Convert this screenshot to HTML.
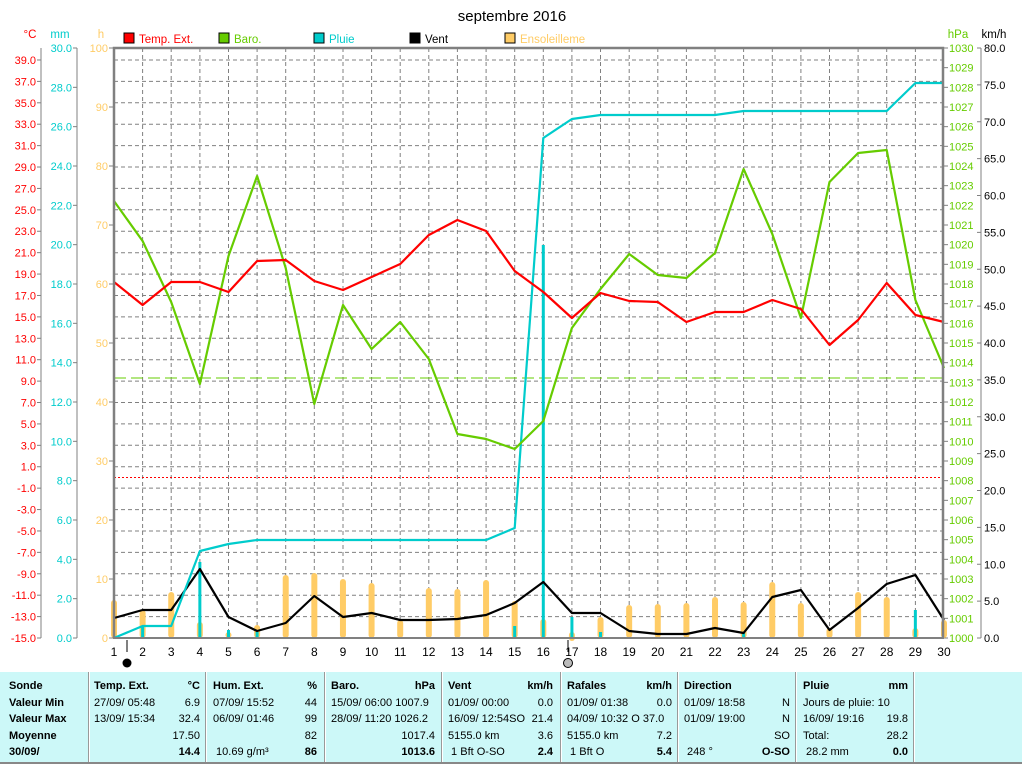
<!DOCTYPE html>
<html><head><meta charset="utf-8"><style>
body{margin:0;background:#fff;width:1024px;height:764px;overflow:hidden;font-family:"Liberation Sans",sans-serif}
svg{position:absolute;left:0;top:0}
.tb{position:absolute;left:0;top:672px;width:1022px;height:90px;background:#ccf8f8;border-bottom:2px solid #888}
.c{position:absolute;top:6px;font-size:11px;line-height:16.5px;color:#000}
.sep{position:absolute;top:0;width:1px;height:90px;background:#999;border-right:1px solid #fff}
b{font-weight:bold}
.r{position:absolute;right:0}
</style></head><body>
<svg width="1024" height="672" font-family="Liberation Sans, sans-serif">
<text x="512" y="21" font-size="15" text-anchor="middle">septembre 2016</text>
<g font-size="11.5">
<rect x="124" y="33" width="10" height="10" fill="#f00" stroke="#000"/><text x="139" y="43" fill="#f00">Temp. Ext.</text>
<rect x="219" y="33" width="10" height="10" fill="#66cc00" stroke="#000"/><text x="234" y="43" fill="#66cc00">Baro.</text>
<rect x="314" y="33" width="10" height="10" fill="#00cccc" stroke="#000"/><text x="329" y="43" fill="#00cccc">Pluie</text>
<rect x="410" y="33" width="10" height="10" fill="#000" stroke="#000"/><text x="425" y="43" fill="#000">Vent</text>
<rect x="505" y="33" width="10" height="10" fill="#ffcc66" stroke="#000"/><text x="520" y="43" fill="#ffcc66">Ensoleilleme</text>
</g>
<g font-size="11.5">
<text x="30" y="38" fill="#f00" text-anchor="middle">°C</text>
<text x="60" y="38" fill="#00cccc" text-anchor="middle">mm</text>
<text x="101" y="38" fill="#ffcc66" text-anchor="middle">h</text>
<text x="958" y="38" fill="#66cc00" text-anchor="middle">hPa</text>
<text x="994" y="38" fill="#000" text-anchor="middle">km/h</text>
</g>
<g id="g"></g>
</svg>
<div class="tb">
<div class="sep" style="left:88px"></div><div class="sep" style="left:205px"></div><div class="sep" style="left:324px"></div><div class="sep" style="left:441px"></div><div class="sep" style="left:560px"></div><div class="sep" style="left:677px"></div><div class="sep" style="left:795px"></div><div class="sep" style="left:913px"></div>
<div class="c" style="left:9px;width:75px"><b>Sonde</b><br><b>Valeur Min</b><br><b>Valeur Max</b><br><b>Moyenne</b><br><b>30/09/</b></div>
<div class="c" style="left:94px;width:106px"><b>Temp. Ext.</b><span class="r"><b>°C</b></span><br>27/09/ 05:48<span class="r">6.9</span><br>13/09/ 15:34<span class="r">32.4</span><br><span class="r">17.50</span>&nbsp;<br><span class="r"><b>14.4</b></span>&nbsp;</div>
<div class="c" style="left:213px;width:104px"><b>Hum. Ext.</b><span class="r"><b>%</b></span><br>07/09/ 15:52<span class="r">44</span><br>06/09/ 01:46<span class="r">99</span><br><span class="r">82</span>&nbsp;<br>&nbsp;10.69 g/m³<span class="r"><b>86</b></span></div>
<div class="c" style="left:331px;width:104px"><b>Baro.</b><span class="r"><b>hPa</b></span><br>15/09/ 06:00 1007.9<br>28/09/ 11:20 1026.2<br><span class="r">1017.4</span>&nbsp;<br><span class="r"><b>1013.6</b></span>&nbsp;</div>
<div class="c" style="left:448px;width:105px"><b>Vent</b><span class="r"><b>km/h</b></span><br>01/09/ 00:00<span class="r">0.0</span><br>16/09/ 12:54SO<span class="r">21.4</span><br>5155.0 km<span class="r">3.6</span><br>&nbsp;1 Bft O-SO<span class="r"><b>2.4</b></span></div>
<div class="c" style="left:567px;width:105px"><b>Rafales</b><span class="r"><b>km/h</b></span><br>01/09/ 01:38<span class="r">0.0</span><br>04/09/ 10:32 O 37.0<br>5155.0 km<span class="r">7.2</span><br>&nbsp;1 Bft O<span class="r"><b>5.4</b></span></div>
<div class="c" style="left:684px;width:106px"><b>Direction</b><br>01/09/ 18:58<span class="r">N</span><br>01/09/ 19:00<span class="r">N</span><br><span class="r">SO</span>&nbsp;<br>&nbsp;248 °<span class="r"><b>O-SO</b></span></div>
<div class="c" style="left:803px;width:105px"><b>Pluie</b><span class="r"><b>mm</b></span><br>Jours de pluie: 10<br>16/09/ 19:16<span class="r">19.8</span><br>Total:<span class="r">28.2</span><br>&nbsp;28.2 mm<span class="r"><b>0.0</b></span></div>
</div>
<script>
(function(){
var g=document.getElementById('g'),s='';
function X(d){return 114+(d-1)*28.62;}
for(var t=-13;t<=39;t+=2){var y=638-(t+15)*10.704;s+='<line x1="114" x2="943" y1="'+y.toFixed(1)+'" y2="'+y.toFixed(1)+'" stroke="#808080" stroke-dasharray="4,3"/>';}
for(var d=2;d<=29;d++){s+='<line x1="'+X(d).toFixed(1)+'" x2="'+X(d).toFixed(1)+'" y1="48" y2="638" stroke="#808080" stroke-dasharray="4,3"/>';}
s+='<line x1="114" x2="943" y1="477.5" y2="477.5" stroke="#f00" stroke-dasharray="2,2"/>';
s+='<line x1="114" x2="943" y1="378" y2="378" stroke="#66cc00" stroke-dasharray="12,5"/>';
s+='<line x1="41" x2="41" y1="48" y2="638" stroke="#808080"/><line x1="77" x2="77" y1="48" y2="638" stroke="#808080"/>';
for(var t=-15;t<=39;t+=2){var y=638-(t+15)*10.704;s+='<line x1="37" x2="41" y1="'+y+'" y2="'+y+'" stroke="#808080"/><text x="36" y="'+(y+4)+'" font-size="11" fill="#f00" text-anchor="end">'+t.toFixed(1)+'</text>';}
for(var m=0;m<=30;m+=2){var y=638-m*19.667;s+='<line x1="73" x2="77" y1="'+y+'" y2="'+y+'" stroke="#808080"/><text x="72" y="'+(y+4)+'" font-size="11" fill="#00cccc" text-anchor="end">'+m.toFixed(1)+'</text>';}
for(var h=0;h<=100;h+=10){var y=638-h*5.9;s+='<line x1="109" x2="114" y1="'+y+'" y2="'+y+'" stroke="#808080"/><text x="108" y="'+(y+4)+'" font-size="11" fill="#ffcc66" text-anchor="end">'+h+'</text>';}
s+='<line x1="981" x2="981" y1="48" y2="638" stroke="#808080"/>';
for(var p=0;p<=30;p++){var y=638-p*19.667;s+='<line x1="943" x2="948" y1="'+y+'" y2="'+y+'" stroke="#808080"/><text x="949" y="'+(y+4)+'" font-size="11" fill="#66cc00">'+(1000+p)+'</text>';}
for(var k=0;k<=80;k+=5){var y=638-k*7.375;s+='<line x1="977" x2="981" y1="'+y+'" y2="'+y+'" stroke="#808080"/><text x="984" y="'+(y+4)+'" font-size="11" fill="#000">'+k.toFixed(1)+'</text>';}
var sun=[600,610,592,622,632,625,575,573,579,583,620,588,589,580,601,619,635,617,605,604,603,597,602,582,603,628,592,597,628,620];
sun.forEach(function(y,i){s+='<line x1="'+X(i+1)+'" x2="'+X(i+1)+'" y1="'+(y+3)+'" y2="635" stroke="#ffcc66" stroke-width="6" stroke-linecap="round"/>';});
var rb={2:626,4:562,5:630,6:632,15:626,16:245,17:617,18:632,23:632,29:610};
for(var k in rb){s+='<line x1="'+X(+k)+'" x2="'+X(+k)+'" y1="'+rb[k]+'" y2="638" stroke="#00cccc" stroke-width="3"/>';}
function pl(a,c,w){var p=a.map(function(y,i){return X(i+1).toFixed(1)+','+y;}).join(' ');return '<polyline points="'+p+'" fill="none" stroke="'+c+'" stroke-width="'+w+'" stroke-linejoin="round"/>';}
var rain=[638,626,626,551,544,540,540,540,540,540,540,540,540,540,528,138,119,115,115,115,115,115,111,111,111,111,111,111,83,83];
var wind=[618,610,610,569,617,631,623,596,617,613,620,620,619,615,603,582,613,613,631,634,634,628,633,597,590,630,608,584,575,620];
var baro=[201,241,302,384,256,176,268,404,305,349,322,359,434,439,449,421,328,289,254,275,278,253,169,234,318,182,153,150,300,368];
var temp=[282,305,282,282,292,261,260,281,290,277,264,235,220,231,271,292,318,293,301,302,322,312,312,300,309,345,320,283,315,322];
s+=pl(wind,'#000',2.2)+pl(rain,'#00cccc',2.2)+pl(baro,'#66cc00',2.2)+pl(temp,'#f00',2.2);
s+='<polyline points="114,638 114,48 943,48 943,638" fill="none" stroke="#808080" stroke-width="2.5"/><line x1="113" x2="944" y1="638" y2="638" stroke="#808080" stroke-width="2"/>';
for(var d=1;d<=30;d++){s+='<text x="'+X(d)+'" y="656" font-size="12" text-anchor="middle">'+d+'</text>';}
s+='<line x1="127" x2="127" y1="640" y2="652" stroke="#000"/><circle cx="127" cy="663" r="4.5" fill="#000"/>';
s+='<line x1="568" x2="568" y1="640" y2="652" stroke="#000"/><circle cx="568" cy="663" r="4.5" fill="#bbb" stroke="#000"/>';
g.innerHTML=s;
})();
</script>
</body></html>
